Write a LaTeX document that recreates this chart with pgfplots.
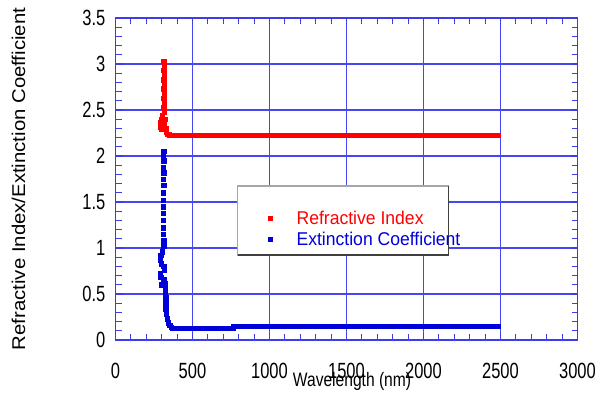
\documentclass[border=0pt]{standalone}
\usepackage{fontspec}
\setmainfont{Liberation Sans}
\newfontfamily\tickfont[FakeStretch=0.75]{Liberation Sans}
\newfontfamily\xlabfont[FakeStretch=0.8]{Liberation Sans}
\newfontfamily\ylabfont[FakeStretch=1.1]{Liberation Sans}
\newfontfamily\legfont[FakeStretch=0.95]{Liberation Sans}
\usepackage{pgfplots}
\pgfplotsset{compat=1.18}
\definecolor{gridblue}{RGB}{70,70,245}
\definecolor{frameblue}{RGB}{60,60,235}
\definecolor{nred}{rgb}{1,0,0}
\definecolor{kblue}{rgb}{0,0,0.85}

\begin{document}
\begin{tikzpicture}
\path[use as bounding box] (0,0) rectangle (595bp,400bp);
\begin{axis}[
  at={(115.5bp,60bp)}, anchor=south west,
  scale only axis, width=462bp, height=322bp,
  xmin=0, xmax=3000, ymin=0, ymax=3.5,
  xtick={0,500,1000,1500,2000,2500,3000},
  ytick={0,0.5,1,1.5,2,2.5,3,3.5},
  minor x tick num=4, minor y tick num=4,
  xmajorgrids, ymajorgrids,
  every axis grid/.style={color=gridblue, line width=1.5bp},
  axis line style={draw=frameblue, line width=1.6bp},
  every tick/.style={draw=frameblue, line width=1.1bp},
  tick align=inside, major tick length=7bp, minor tick length=6bp,
  /pgf/number format/assume math mode=true,
  /pgf/number format/1000 sep={},
  ticklabel style={font=\tickfont\fontsize{22bp}{24bp}\selectfont, inner sep=0pt},
  xticklabel style={anchor=north, yshift=-23bp},
  yticklabel style={anchor=east, xshift=-10bp},
  xlabel={Wavelength (nm)},
  xlabel style={at={(axis description cs:0.512,-0.1450)}, anchor=base, inner sep=0pt,
    font=\xlabfont\fontsize{19.5bp}{22bp}\selectfont},
  ylabel={Refractive Index/Extinction Coefficient},
  ylabel style={at={(axis description cs:-0.1958,0.5)}, anchor=base, rotate=0, inner sep=0pt,
    font=\ylabfont\fontsize{18.5bp}{22bp}\selectfont},
  legend cell align=left,
  legend style={draw=none, fill=none, at={(rel axis cs:0.3305,0.401)}, anchor=north west,
    inner sep=0pt, outer sep=0pt, column sep=24bp, row sep=6bp,
    font=\legfont\fontsize{18.5bp}{20bp}\selectfont,
    nodes={inner sep=0pt}},
]
% refractive index, steep part
\addplot[only marks, mark=square*, mark size=2.2bp, color=nred] coordinates {
  (313,3.03) (316,2.98) (313,2.93) (316,2.88) (313,2.83) (316,2.78)
  (313,2.73) (316,2.68) (313,2.63) (316,2.58) (313,2.53) (316,2.48)
  (305,2.44) (296,2.40) (292,2.36) (290,2.32) (295,2.29) (305,2.30)
  (318,2.34) (324,2.40) (328,2.30) (330,2.26) (338,2.24) (348,2.23)
};
\addlegendentry{\textcolor{nred}{Refractive Index}}
% extinction coefficient, steep part
\addplot[only marks, mark=square*, mark size=2.2bp, color=kblue] coordinates {
  (313,2.05) (311,2.00) (313,1.95) (311,1.88) (312,1.82) (310,1.75)
  (312,1.68) (310,1.60) (311,1.52) (309,1.45) (311,1.38) (309,1.30)
  (311,1.22) (310,1.15) (313,1.08) (314,1.02) (303,0.96) (294,0.92)
  (290,0.87) (298,0.83) (312,0.80) (318,0.76) (290,0.72) (294,0.68)
  (312,0.66) (320,0.62) (298,0.60) (322,0.58) (324,0.52) (325,0.46)
  (326,0.40) (327,0.34) (330,0.28) (335,0.23) (342,0.19) (352,0.16)
  (362,0.14) (372,0.13)
};
\addlegendentry{\textcolor{kblue}{Extinction Coefficient}}
% flat parts
\addplot[forget plot, nred, line width=5bp, mark=none] coordinates {
  (335,2.22) (2500,2.22)
};
\addplot[forget plot, kblue, line width=5bp, mark=none] coordinates {
  (365,0.128) (767,0.128) (767,0.147) (2500,0.147)
};
% legend frame
\draw[fill=white, draw=gray!70, line width=1.2bp]
  (rel axis cs:0.2641,0.2640) rectangle (rel axis cs:0.7208,0.4783);
\draw[black!75, line width=1.4bp]
  (rel axis cs:0.2641,0.2640) -- (rel axis cs:0.7208,0.2640) -- (rel axis cs:0.7208,0.4783);
\end{axis}
\end{tikzpicture}
\end{document}
